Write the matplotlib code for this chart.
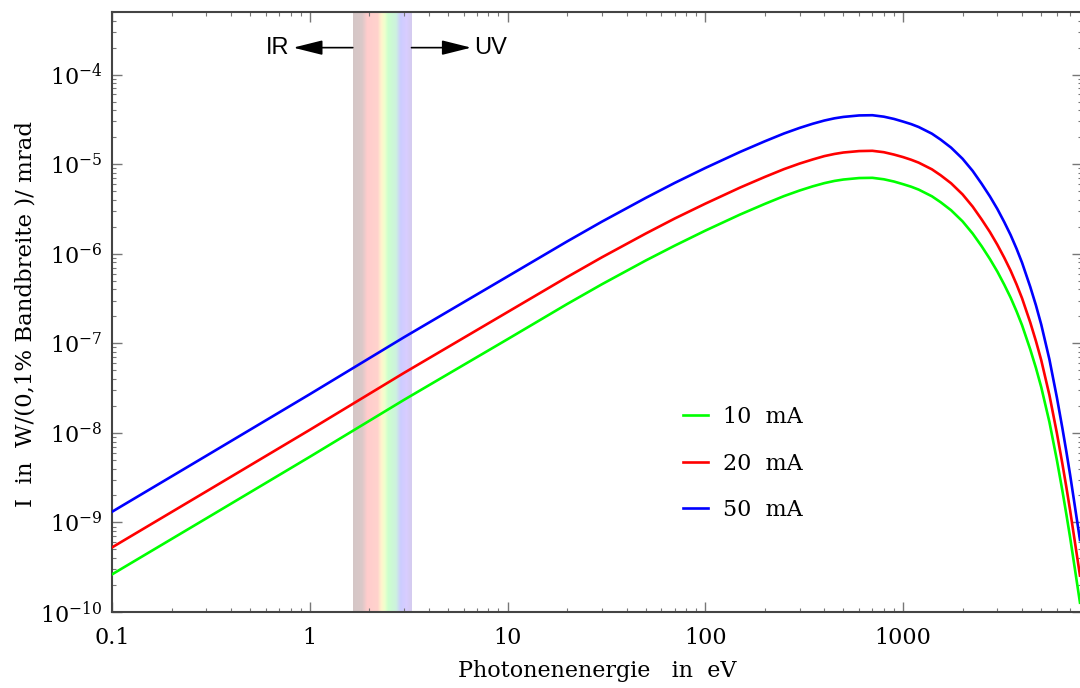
import matplotlib
matplotlib.use("Agg")
import matplotlib.pyplot as plt
import numpy as np
from matplotlib.colors import LinearSegmentedColormap

# photon energy in eV
energy = [0.1, 0.3, 1, 3, 10, 20, 30, 50, 70, 100, 150, 200, 250, 300, 350,
          400, 450, 500, 600, 700, 800, 900, 1000, 1100, 1200, 1400, 1550,
          1750, 2000, 2250, 2500, 2750, 3000, 3250, 3500, 3750, 4000, 4400,
          4700, 5000, 5500, 6000, 6400, 6700, 7000, 7400, 7850]

i_10mA = [2.63e-10, 1.11e-9, 5.4e-9, 2.34e-8, 1.11e-7, 2.74e-7, 4.56e-7,
          8.4e-7, 1.23e-6, 1.81e-6, 2.74e-6, 3.6e-6, 4.4e-6, 5.08e-6, 5.66e-6,
          6.14e-6, 6.5e-6, 6.74e-6, 7.0e-6, 7.04e-6, 6.78e-6, 6.4e-6, 5.98e-6,
          5.6e-6, 5.2e-6, 4.38e-6, 3.76e-6, 3.06e-6, 2.3e-6, 1.68e-6, 1.21e-6,
          8.74e-7, 6.32e-7, 4.52e-7, 3.24e-7, 2.28e-7, 1.59e-7, 8.54e-8,
          5.32e-8, 3.24e-8, 1.32e-8, 4.96e-9, 2.24e-9, 1.23e-9, 6.78e-10,
          3.02e-10, 1.27e-10]
i_20mA = [5.26e-10, 2.22e-9, 1.08e-8, 4.68e-8, 2.23e-7, 5.48e-7, 9.12e-7,
          1.68e-6, 2.47e-6, 3.62e-6, 5.48e-6, 7.2e-6, 8.8e-6, 1.016e-5,
          1.13e-5, 1.23e-5, 1.30e-5, 1.35e-5, 1.40e-5, 1.41e-5, 1.36e-5,
          1.28e-5, 1.20e-5, 1.12e-5, 1.04e-5, 8.76e-6, 7.52e-6, 6.12e-6,
          4.6e-6, 3.36e-6, 2.41e-6, 1.75e-6, 1.26e-6, 9.04e-7, 6.48e-7,
          4.56e-7, 3.18e-7, 1.71e-7, 1.06e-7, 6.48e-8, 2.64e-8, 9.92e-9,
          4.48e-9, 2.47e-9, 1.36e-9, 6.04e-10, 2.55e-10]
i_50mA = [1.315e-9, 5.55e-9, 2.70e-8, 1.17e-7, 5.57e-7, 1.37e-6, 2.28e-6,
          4.20e-6, 6.17e-6, 9.06e-6, 1.37e-5, 1.80e-5, 2.20e-5, 2.54e-5,
          2.83e-5, 3.07e-5, 3.25e-5, 3.37e-5, 3.50e-5, 3.52e-5, 3.39e-5,
          3.20e-5, 2.99e-5, 2.80e-5, 2.60e-5, 2.19e-5, 1.88e-5, 1.53e-5,
          1.15e-5, 8.41e-6, 6.03e-6, 4.37e-6, 3.16e-6, 2.26e-6, 1.62e-6,
          1.14e-6, 7.94e-7, 4.27e-7, 2.66e-7, 1.62e-7, 6.61e-8, 2.48e-8,
          1.12e-8, 6.17e-9, 3.39e-9, 1.51e-9, 6.37e-10]

labels = ["10  mA", "20  mA", "50  mA"]
colors = ["#00ff00", "#ff0000", "#0000ff"]

# visible light band (eV)
vis_lo, vis_hi = 1.65, 3.27
band_stops = [(0.0, "#d4c6c6"), (0.15, "#dac8c8"), (0.25, "#ffcccc"),
              (0.42, "#ffd2cc"), (0.49, "#fff4cc"), (0.54, "#eeffcc"),
              (0.6, "#ccffcc"), (0.74, "#ccf2dd"), (0.82, "#ccccff"),
              (0.92, "#d8ccff"), (1.0, "#d4cbef")]

plt.rcParams["font.family"] = ["DejaVu Serif"]
plt.rcParams["mathtext.fontset"] = "dejavuserif"

fig = plt.figure(figsize=(10.8, 6.88), dpi=100)
ax = fig.add_axes([112 / 1080, 76 / 688, 969.6 / 1080, 600 / 688])
ax.set_xscale("log")
ax.set_yscale("log")
ax.set_xlim(0.1, 8000)
ax.set_ylim(1e-10, 5e-4)

cmap = LinearSegmentedColormap.from_list("vis", band_stops)
edges = np.geomspace(vis_lo, vis_hi, 121)
for k in range(len(edges) - 1):
    ax.axvspan(edges[k], edges[k + 1], color=cmap(k / 119), lw=0, zorder=0)

for y, lab, c in zip([i_10mA, i_20mA, i_50mA], labels, colors):
    ax.plot(energy, y, color=c, lw=1.9, label=lab, zorder=3)

arrow_y = 2.0e-4
ap = dict(arrowstyle="-|>,head_length=1.8,head_width=0.45", color="black",
          lw=1.2, shrinkA=0, shrinkB=0)
ax.annotate("", xy=(0.825, arrow_y), xytext=(vis_lo, arrow_y), arrowprops=ap)
ax.annotate("", xy=(6.55, arrow_y), xytext=(vis_hi, arrow_y), arrowprops=ap)
ax.text(0.79, arrow_y, "IR", ha="right", va="center", fontsize=17,
        family="Liberation Sans")
ax.text(6.8, arrow_y, "UV", ha="left", va="center", fontsize=17,
        family="Liberation Sans")

ax.set_xticks([0.1, 1, 10, 100, 1000])
ax.set_xticklabels(["0.1", "1", "10", "100", "1000"])
ax.set_yticks([1e-10, 1e-9, 1e-8, 1e-7, 1e-6, 1e-5, 1e-4])
ax.set_yticklabels(["$10^{-10}$", "$10^{-9}$", "$10^{-8}$", "$10^{-7}$",
                    "$10^{-6}$", "$10^{-5}$", "$10^{-4}$"])
ax.tick_params(which="both", direction="in", top=True, right=True,
               color="#777777", labelsize=16)
ax.tick_params(which="major", length=7, width=1.0)
ax.tick_params(which="minor", length=3.2, width=0.8)
ax.tick_params(axis="x", which="major", pad=11)
ax.tick_params(axis="y", which="major", pad=7)
for s in ax.spines.values():
    s.set_color("#444444")
    s.set_linewidth(1.5)

ax.set_xlabel("Photonenenergie   in  eV", fontsize=16, labelpad=8)
ax.set_ylabel("I  in  W/(0,1% Bandbreite )/ mrad", fontsize=16.5)
ax.yaxis.set_label_coords(-0.078, 0.497)

ax.legend(loc="upper left", bbox_to_anchor=(0.589, 0.343), frameon=False,
          fontsize=16, handlelength=1.1, handletextpad=0.7, labelspacing=1.1,
          borderpad=0, borderaxespad=0)

fig.savefig("out.png", dpi=100)
